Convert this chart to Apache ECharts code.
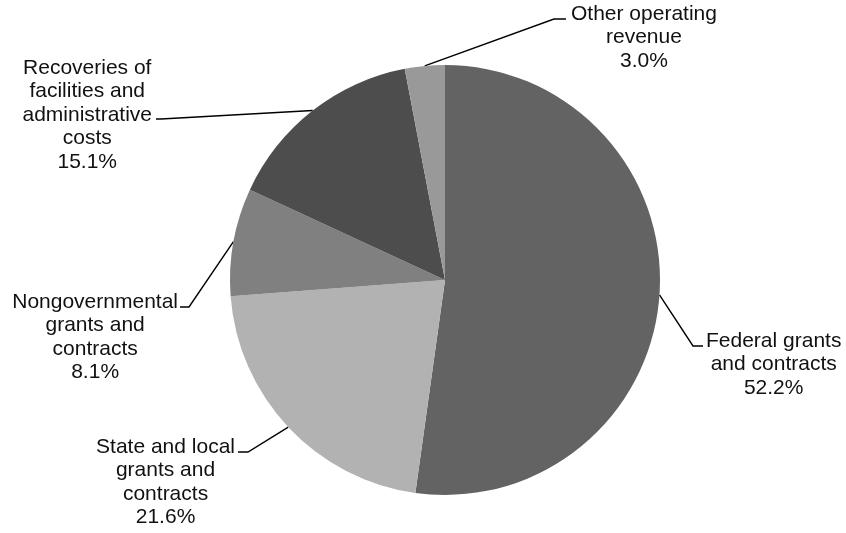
<!DOCTYPE html>
<html><head><meta charset="utf-8">
<script src="https://cdn.jsdelivr.net/npm/echarts@6/dist/echarts.min.js"></script>
<style>html,body{margin:0;padding:0;background:#fff}#c{width:846px;height:533px}</style>
</head><body><div id="c"></div>
<script>
// ---- data ----
const categories = [
  'Federal grants and contracts',
  'State and local grants and contracts',
  'Nongovernmental grants and contracts',
  'Recoveries of facilities and administrative costs',
  'Other operating revenue'
];
const labelText = [
  ['Federal grants', 'and contracts'],
  ['State and local', 'grants and', 'contracts'],
  ['Nongovernmental', 'grants and', 'contracts'],
  ['Recoveries of', 'facilities and', 'administrative', 'costs'],
  ['Other operating', 'revenue']
];
const values = [52.2, 21.6, 8.1, 15.1, 3.0];

// ---- styles / layout ----
const colors = ['#636363', '#b2b2b2', '#808080', '#4d4d4d', '#999999'];
const labelPlace = [
  { x: 703, y: 346, align: 'left',  padding: [37, 0, 0, 3],    len2: 10 },
  { x: 238, y: 452, align: 'right', padding: [60.5, 3, 0, 0],  len2: 10 },
  { x: 180, y: 307, align: 'right', padding: [60.5, 2, 0, 0],  len2: 9 },
  { x: 156, y: 119, align: 'right', padding: [0, 4, 8, 0],     len2: 5 },
  { x: 566, y: 19,  align: 'left',  padding: [37, 0, 0, 5],    len2: 12 }
];

const chart = echarts.init(document.getElementById('c'), null, { renderer: 'canvas' });
const data = categories.map((name, i) => ({
  name: name,
  value: values[i],
  itemStyle: { color: colors[i] },
  label: { padding: labelPlace[i].padding },
  labelLine: { length2: labelPlace[i].len2 }
}));

chart.setOption({
  animation: false,
  backgroundColor: '#ffffff',
  series: [{
    type: 'pie',
    center: [445, 280],
    radius: 215,
    startAngle: 90,
    clockwise: true,
    avoidLabelOverlap: false,
    itemStyle: { borderWidth: 0 },
    emphasis: { disabled: true },
    data: data,
    label: {
      show: true,
      position: 'outside',
      alignTo: 'none',
      backgroundColor: 'rgba(255,255,255,0)',
      formatter: function (p) {
        const lines = labelText[p.dataIndex].concat([p.value.toFixed(1) + '%']);
        return lines.map(s => '{c|' + s + '}').join('\n');
      },
      rich: {
        c: {
          fontFamily: '"Liberation Sans", Arial, sans-serif',
          fontSize: 21,
          lineHeight: 23.5,
          color: '#111111',
          align: 'center'
        }
      }
    },
    labelLine: {
      show: true,
      length: 15,
      length2: 10,
      smooth: false,
      lineStyle: { color: '#000000', width: 1.4 }
    },
    labelLayout: function (p) {
      const a = labelPlace[p.dataIndex];
      return { x: a.x, y: a.y, align: a.align, verticalAlign: 'middle' };
    }
  }]
});
</script>
</body></html>
